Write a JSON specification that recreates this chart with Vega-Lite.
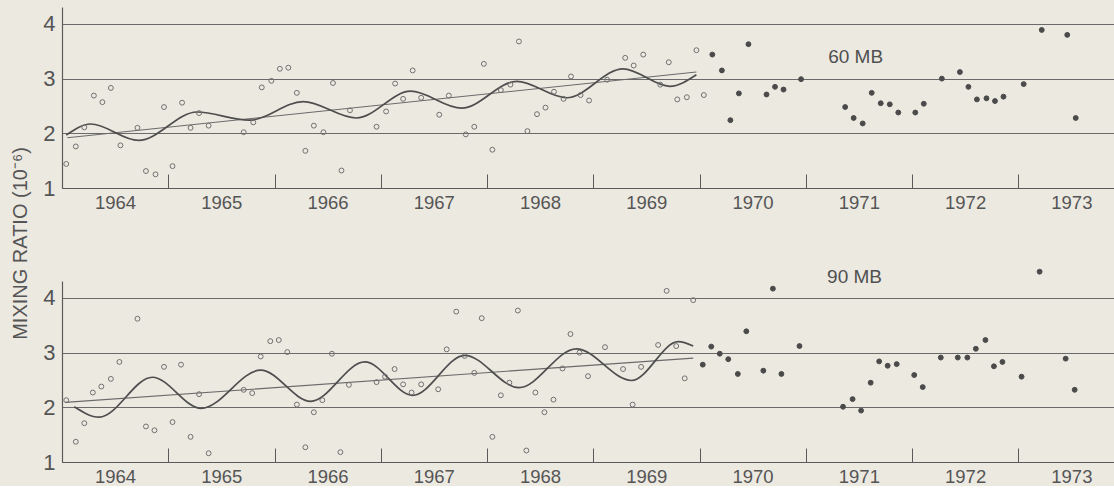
{
  "$schema": "https://vega.github.io/schema/vega-lite/v6.json",
  "background": "#ECE9E1",
  "padding": {"left": 10, "top": 7, "right": 0, "bottom": 0},
  "bounds": "flush",
  "spacing": 93,
  "config": {
    "view": {"stroke": null},
    "font": "Liberation Sans",
    "axisX": {
      "ticks": true,
      "tickSize": -14,
      "tickColor": "#5a5a5a",
      "tickWidth": 1,
      "labelOffset": 53,
      "labelPadding": 19,
      "labelFontSize": 18.5,
      "labelColor": "#555555",
      "labelFlush": false,
      "labelOverlap": false,
      "domainColor": "#5a5a5a",
      "domainWidth": 1.2,
      "grid": false,
      "title": null
    },
    "axisY": {
      "ticks": false,
      "grid": true,
      "gridColor": "#6a6a6a",
      "gridWidth": 1,
      "gridOpacity": 1,
      "labelFontSize": 22,
      "labelPadding": 7,
      "labelColor": "#555555",
      "domainColor": "#5a5a5a",
      "domainWidth": 1.2
    }
  },
  "datasets": {
    "points": [
      {"level": "60 MB", "kind": "open", "year": 1964.04, "ratio": 1.44},
      {"level": "60 MB", "kind": "open", "year": 1964.13, "ratio": 1.76},
      {"level": "60 MB", "kind": "open", "year": 1964.21, "ratio": 2.11},
      {"level": "60 MB", "kind": "open", "year": 1964.30, "ratio": 2.69},
      {"level": "60 MB", "kind": "open", "year": 1964.38, "ratio": 2.57},
      {"level": "60 MB", "kind": "open", "year": 1964.46, "ratio": 2.83},
      {"level": "60 MB", "kind": "open", "year": 1964.55, "ratio": 1.78},
      {"level": "60 MB", "kind": "open", "year": 1964.71, "ratio": 2.10},
      {"level": "60 MB", "kind": "open", "year": 1964.79, "ratio": 1.31},
      {"level": "60 MB", "kind": "open", "year": 1964.88, "ratio": 1.25},
      {"level": "60 MB", "kind": "open", "year": 1964.96, "ratio": 2.48},
      {"level": "60 MB", "kind": "open", "year": 1965.04, "ratio": 1.40},
      {"level": "60 MB", "kind": "open", "year": 1965.13, "ratio": 2.56},
      {"level": "60 MB", "kind": "open", "year": 1965.21, "ratio": 2.10},
      {"level": "60 MB", "kind": "open", "year": 1965.29, "ratio": 2.37},
      {"level": "60 MB", "kind": "open", "year": 1965.38, "ratio": 2.14},
      {"level": "60 MB", "kind": "open", "year": 1965.71, "ratio": 2.02},
      {"level": "60 MB", "kind": "open", "year": 1965.80, "ratio": 2.20},
      {"level": "60 MB", "kind": "open", "year": 1965.88, "ratio": 2.84},
      {"level": "60 MB", "kind": "open", "year": 1965.97, "ratio": 2.96},
      {"level": "60 MB", "kind": "open", "year": 1966.05, "ratio": 3.18},
      {"level": "60 MB", "kind": "open", "year": 1966.13, "ratio": 3.20},
      {"level": "60 MB", "kind": "open", "year": 1966.21, "ratio": 2.74},
      {"level": "60 MB", "kind": "open", "year": 1966.29, "ratio": 1.68},
      {"level": "60 MB", "kind": "open", "year": 1966.37, "ratio": 2.14},
      {"level": "60 MB", "kind": "open", "year": 1966.46, "ratio": 2.02},
      {"level": "60 MB", "kind": "open", "year": 1966.55, "ratio": 2.92},
      {"level": "60 MB", "kind": "open", "year": 1966.63, "ratio": 1.32},
      {"level": "60 MB", "kind": "open", "year": 1966.71, "ratio": 2.42},
      {"level": "60 MB", "kind": "open", "year": 1966.96, "ratio": 2.12},
      {"level": "60 MB", "kind": "open", "year": 1967.05, "ratio": 2.40},
      {"level": "60 MB", "kind": "open", "year": 1967.135, "ratio": 2.91},
      {"level": "60 MB", "kind": "open", "year": 1967.21, "ratio": 2.63},
      {"level": "60 MB", "kind": "open", "year": 1967.30, "ratio": 3.15},
      {"level": "60 MB", "kind": "open", "year": 1967.38, "ratio": 2.65},
      {"level": "60 MB", "kind": "open", "year": 1967.55, "ratio": 2.34},
      {"level": "60 MB", "kind": "open", "year": 1967.64, "ratio": 2.69},
      {"level": "60 MB", "kind": "open", "year": 1967.80, "ratio": 1.98},
      {"level": "60 MB", "kind": "open", "year": 1967.88, "ratio": 2.12},
      {"level": "60 MB", "kind": "open", "year": 1967.97, "ratio": 3.27},
      {"level": "60 MB", "kind": "open", "year": 1968.05, "ratio": 1.70},
      {"level": "60 MB", "kind": "open", "year": 1968.13, "ratio": 2.79},
      {"level": "60 MB", "kind": "open", "year": 1968.22, "ratio": 2.89},
      {"level": "60 MB", "kind": "open", "year": 1968.30, "ratio": 3.68},
      {"level": "60 MB", "kind": "open", "year": 1968.38, "ratio": 2.04},
      {"level": "60 MB", "kind": "open", "year": 1968.47, "ratio": 2.35},
      {"level": "60 MB", "kind": "open", "year": 1968.55, "ratio": 2.47},
      {"level": "60 MB", "kind": "open", "year": 1968.63, "ratio": 2.76},
      {"level": "60 MB", "kind": "open", "year": 1968.72, "ratio": 2.63},
      {"level": "60 MB", "kind": "open", "year": 1968.79, "ratio": 3.04},
      {"level": "60 MB", "kind": "open", "year": 1968.88, "ratio": 2.70},
      {"level": "60 MB", "kind": "open", "year": 1968.96, "ratio": 2.60},
      {"level": "60 MB", "kind": "open", "year": 1969.13, "ratio": 2.98},
      {"level": "60 MB", "kind": "open", "year": 1969.30, "ratio": 3.38},
      {"level": "60 MB", "kind": "open", "year": 1969.38, "ratio": 3.24},
      {"level": "60 MB", "kind": "open", "year": 1969.47, "ratio": 3.44},
      {"level": "60 MB", "kind": "open", "year": 1969.63, "ratio": 2.89},
      {"level": "60 MB", "kind": "open", "year": 1969.71, "ratio": 3.30},
      {"level": "60 MB", "kind": "open", "year": 1969.79, "ratio": 2.62},
      {"level": "60 MB", "kind": "open", "year": 1969.88, "ratio": 2.66},
      {"level": "60 MB", "kind": "open", "year": 1969.97, "ratio": 3.52},
      {"level": "60 MB", "kind": "open", "year": 1970.04, "ratio": 2.70},
      {"level": "60 MB", "kind": "filled", "year": 1970.12, "ratio": 3.44},
      {"level": "60 MB", "kind": "filled", "year": 1970.21, "ratio": 3.15},
      {"level": "60 MB", "kind": "filled", "year": 1970.29, "ratio": 2.24},
      {"level": "60 MB", "kind": "filled", "year": 1970.37, "ratio": 2.73},
      {"level": "60 MB", "kind": "filled", "year": 1970.46, "ratio": 3.63},
      {"level": "60 MB", "kind": "filled", "year": 1970.63, "ratio": 2.71},
      {"level": "60 MB", "kind": "filled", "year": 1970.71, "ratio": 2.85},
      {"level": "60 MB", "kind": "filled", "year": 1970.79, "ratio": 2.80},
      {"level": "60 MB", "kind": "filled", "year": 1970.955, "ratio": 2.99},
      {"level": "60 MB", "kind": "filled", "year": 1971.37, "ratio": 2.48},
      {"level": "60 MB", "kind": "filled", "year": 1971.45, "ratio": 2.28},
      {"level": "60 MB", "kind": "filled", "year": 1971.535, "ratio": 2.18},
      {"level": "60 MB", "kind": "filled", "year": 1971.62, "ratio": 2.74},
      {"level": "60 MB", "kind": "filled", "year": 1971.705, "ratio": 2.55},
      {"level": "60 MB", "kind": "filled", "year": 1971.79, "ratio": 2.53},
      {"level": "60 MB", "kind": "filled", "year": 1971.87, "ratio": 2.38},
      {"level": "60 MB", "kind": "filled", "year": 1972.03, "ratio": 2.38},
      {"level": "60 MB", "kind": "filled", "year": 1972.11, "ratio": 2.54},
      {"level": "60 MB", "kind": "filled", "year": 1972.28, "ratio": 3.00},
      {"level": "60 MB", "kind": "filled", "year": 1972.45, "ratio": 3.12},
      {"level": "60 MB", "kind": "filled", "year": 1972.53, "ratio": 2.85},
      {"level": "60 MB", "kind": "filled", "year": 1972.61, "ratio": 2.62},
      {"level": "60 MB", "kind": "filled", "year": 1972.70, "ratio": 2.64},
      {"level": "60 MB", "kind": "filled", "year": 1972.78, "ratio": 2.59},
      {"level": "60 MB", "kind": "filled", "year": 1972.86, "ratio": 2.67},
      {"level": "60 MB", "kind": "filled", "year": 1973.05, "ratio": 2.90},
      {"level": "60 MB", "kind": "filled", "year": 1973.22, "ratio": 3.89},
      {"level": "60 MB", "kind": "filled", "year": 1973.46, "ratio": 3.80},
      {"level": "60 MB", "kind": "filled", "year": 1973.54, "ratio": 2.28},
      {"level": "90 MB", "kind": "open", "year": 1964.04, "ratio": 2.13},
      {"level": "90 MB", "kind": "open", "year": 1964.13, "ratio": 1.37},
      {"level": "90 MB", "kind": "open", "year": 1964.21, "ratio": 1.71},
      {"level": "90 MB", "kind": "open", "year": 1964.29, "ratio": 2.27},
      {"level": "90 MB", "kind": "open", "year": 1964.37, "ratio": 2.38},
      {"level": "90 MB", "kind": "open", "year": 1964.46, "ratio": 2.52},
      {"level": "90 MB", "kind": "open", "year": 1964.54, "ratio": 2.83},
      {"level": "90 MB", "kind": "open", "year": 1964.71, "ratio": 3.62},
      {"level": "90 MB", "kind": "open", "year": 1964.79, "ratio": 1.65},
      {"level": "90 MB", "kind": "open", "year": 1964.87, "ratio": 1.58},
      {"level": "90 MB", "kind": "open", "year": 1964.96, "ratio": 2.74},
      {"level": "90 MB", "kind": "open", "year": 1965.04, "ratio": 1.73},
      {"level": "90 MB", "kind": "open", "year": 1965.12, "ratio": 2.78},
      {"level": "90 MB", "kind": "open", "year": 1965.21, "ratio": 1.46},
      {"level": "90 MB", "kind": "open", "year": 1965.29, "ratio": 2.24},
      {"level": "90 MB", "kind": "open", "year": 1965.38, "ratio": 1.16},
      {"level": "90 MB", "kind": "open", "year": 1965.71, "ratio": 2.32},
      {"level": "90 MB", "kind": "open", "year": 1965.79, "ratio": 2.26},
      {"level": "90 MB", "kind": "open", "year": 1965.87, "ratio": 2.93},
      {"level": "90 MB", "kind": "open", "year": 1965.96, "ratio": 3.21},
      {"level": "90 MB", "kind": "open", "year": 1966.04, "ratio": 3.23},
      {"level": "90 MB", "kind": "open", "year": 1966.12, "ratio": 3.01},
      {"level": "90 MB", "kind": "open", "year": 1966.21, "ratio": 2.05},
      {"level": "90 MB", "kind": "open", "year": 1966.29, "ratio": 1.27},
      {"level": "90 MB", "kind": "open", "year": 1966.37, "ratio": 1.91},
      {"level": "90 MB", "kind": "open", "year": 1966.45, "ratio": 2.13},
      {"level": "90 MB", "kind": "open", "year": 1966.54, "ratio": 2.98},
      {"level": "90 MB", "kind": "open", "year": 1966.62, "ratio": 1.18},
      {"level": "90 MB", "kind": "open", "year": 1966.70, "ratio": 2.41},
      {"level": "90 MB", "kind": "open", "year": 1966.96, "ratio": 2.46},
      {"level": "90 MB", "kind": "open", "year": 1967.04, "ratio": 2.56},
      {"level": "90 MB", "kind": "open", "year": 1967.13, "ratio": 2.70},
      {"level": "90 MB", "kind": "open", "year": 1967.21, "ratio": 2.42},
      {"level": "90 MB", "kind": "open", "year": 1967.29, "ratio": 2.27},
      {"level": "90 MB", "kind": "open", "year": 1967.38, "ratio": 2.42},
      {"level": "90 MB", "kind": "open", "year": 1967.54, "ratio": 2.33},
      {"level": "90 MB", "kind": "open", "year": 1967.62, "ratio": 3.06},
      {"level": "90 MB", "kind": "open", "year": 1967.71, "ratio": 3.75},
      {"level": "90 MB", "kind": "open", "year": 1967.79, "ratio": 2.94},
      {"level": "90 MB", "kind": "open", "year": 1967.88, "ratio": 2.63},
      {"level": "90 MB", "kind": "open", "year": 1967.95, "ratio": 3.63},
      {"level": "90 MB", "kind": "open", "year": 1968.05, "ratio": 1.46},
      {"level": "90 MB", "kind": "open", "year": 1968.13, "ratio": 2.22},
      {"level": "90 MB", "kind": "open", "year": 1968.21, "ratio": 2.45},
      {"level": "90 MB", "kind": "open", "year": 1968.29, "ratio": 3.77},
      {"level": "90 MB", "kind": "open", "year": 1968.37, "ratio": 1.21},
      {"level": "90 MB", "kind": "open", "year": 1968.455, "ratio": 2.27},
      {"level": "90 MB", "kind": "open", "year": 1968.54, "ratio": 1.91},
      {"level": "90 MB", "kind": "open", "year": 1968.625, "ratio": 2.14},
      {"level": "90 MB", "kind": "open", "year": 1968.71, "ratio": 2.71},
      {"level": "90 MB", "kind": "open", "year": 1968.785, "ratio": 3.34},
      {"level": "90 MB", "kind": "open", "year": 1968.87, "ratio": 3.00},
      {"level": "90 MB", "kind": "open", "year": 1968.95, "ratio": 2.57},
      {"level": "90 MB", "kind": "open", "year": 1969.11, "ratio": 3.10},
      {"level": "90 MB", "kind": "open", "year": 1969.28, "ratio": 2.70},
      {"level": "90 MB", "kind": "open", "year": 1969.37, "ratio": 2.05},
      {"level": "90 MB", "kind": "open", "year": 1969.45, "ratio": 2.74},
      {"level": "90 MB", "kind": "open", "year": 1969.61, "ratio": 3.14},
      {"level": "90 MB", "kind": "open", "year": 1969.69, "ratio": 4.13},
      {"level": "90 MB", "kind": "open", "year": 1969.78, "ratio": 3.12},
      {"level": "90 MB", "kind": "open", "year": 1969.86, "ratio": 2.53},
      {"level": "90 MB", "kind": "open", "year": 1969.94, "ratio": 3.96},
      {"level": "90 MB", "kind": "filled", "year": 1970.03, "ratio": 2.78},
      {"level": "90 MB", "kind": "filled", "year": 1970.11, "ratio": 3.11},
      {"level": "90 MB", "kind": "filled", "year": 1970.19, "ratio": 2.98},
      {"level": "90 MB", "kind": "filled", "year": 1970.27, "ratio": 2.88},
      {"level": "90 MB", "kind": "filled", "year": 1970.36, "ratio": 2.61},
      {"level": "90 MB", "kind": "filled", "year": 1970.44, "ratio": 3.39},
      {"level": "90 MB", "kind": "filled", "year": 1970.60, "ratio": 2.67},
      {"level": "90 MB", "kind": "filled", "year": 1970.69, "ratio": 4.17},
      {"level": "90 MB", "kind": "filled", "year": 1970.77, "ratio": 2.61},
      {"level": "90 MB", "kind": "filled", "year": 1970.94, "ratio": 3.12},
      {"level": "90 MB", "kind": "filled", "year": 1971.35, "ratio": 2.01},
      {"level": "90 MB", "kind": "filled", "year": 1971.44, "ratio": 2.15},
      {"level": "90 MB", "kind": "filled", "year": 1971.52, "ratio": 1.94},
      {"level": "90 MB", "kind": "filled", "year": 1971.61, "ratio": 2.45},
      {"level": "90 MB", "kind": "filled", "year": 1971.69, "ratio": 2.84},
      {"level": "90 MB", "kind": "filled", "year": 1971.77, "ratio": 2.76},
      {"level": "90 MB", "kind": "filled", "year": 1971.855, "ratio": 2.79},
      {"level": "90 MB", "kind": "filled", "year": 1972.02, "ratio": 2.59},
      {"level": "90 MB", "kind": "filled", "year": 1972.10, "ratio": 2.37},
      {"level": "90 MB", "kind": "filled", "year": 1972.27, "ratio": 2.91},
      {"level": "90 MB", "kind": "filled", "year": 1972.43, "ratio": 2.91},
      {"level": "90 MB", "kind": "filled", "year": 1972.52, "ratio": 2.91},
      {"level": "90 MB", "kind": "filled", "year": 1972.60, "ratio": 3.07},
      {"level": "90 MB", "kind": "filled", "year": 1972.69, "ratio": 3.23},
      {"level": "90 MB", "kind": "filled", "year": 1972.77, "ratio": 2.75},
      {"level": "90 MB", "kind": "filled", "year": 1972.85, "ratio": 2.83},
      {"level": "90 MB", "kind": "filled", "year": 1973.03, "ratio": 2.56},
      {"level": "90 MB", "kind": "filled", "year": 1973.20, "ratio": 4.48},
      {"level": "90 MB", "kind": "filled", "year": 1973.445, "ratio": 2.89},
      {"level": "90 MB", "kind": "filled", "year": 1973.53, "ratio": 2.32}
    ],
    "curve": [
      {"level": "60 MB", "year": 1964.04, "ratio": 1.97},
      {"level": "60 MB", "year": 1964.27, "ratio": 2.17},
      {"level": "60 MB", "year": 1964.72, "ratio": 1.87},
      {"level": "60 MB", "year": 1965.27, "ratio": 2.39},
      {"level": "60 MB", "year": 1965.76, "ratio": 2.24},
      {"level": "60 MB", "year": 1966.27, "ratio": 2.58},
      {"level": "60 MB", "year": 1966.77, "ratio": 2.28},
      {"level": "60 MB", "year": 1967.28, "ratio": 2.77},
      {"level": "60 MB", "year": 1967.76, "ratio": 2.46},
      {"level": "60 MB", "year": 1968.28, "ratio": 2.95},
      {"level": "60 MB", "year": 1968.75, "ratio": 2.65},
      {"level": "60 MB", "year": 1969.28, "ratio": 3.18},
      {"level": "60 MB", "year": 1969.72, "ratio": 2.86},
      {"level": "60 MB", "year": 1969.97, "ratio": 3.07},
      {"level": "90 MB", "year": 1964.115, "ratio": 2.01},
      {"level": "90 MB", "year": 1964.35, "ratio": 1.82},
      {"level": "90 MB", "year": 1964.85, "ratio": 2.55},
      {"level": "90 MB", "year": 1965.31, "ratio": 1.98},
      {"level": "90 MB", "year": 1965.87, "ratio": 2.68},
      {"level": "90 MB", "year": 1966.34, "ratio": 2.11},
      {"level": "90 MB", "year": 1966.85, "ratio": 2.83},
      {"level": "90 MB", "year": 1967.30, "ratio": 2.22},
      {"level": "90 MB", "year": 1967.79, "ratio": 2.95},
      {"level": "90 MB", "year": 1968.30, "ratio": 2.36},
      {"level": "90 MB", "year": 1968.84, "ratio": 3.07},
      {"level": "90 MB", "year": 1969.36, "ratio": 2.49},
      {"level": "90 MB", "year": 1969.80, "ratio": 3.20},
      {"level": "90 MB", "year": 1969.94, "ratio": 3.12}
    ],
    "trend": [
      {"level": "60 MB", "year": 1964.05, "ratio": 1.92},
      {"level": "60 MB", "year": 1969.97, "ratio": 3.12},
      {"level": "90 MB", "year": 1964.03, "ratio": 2.09},
      {"level": "90 MB", "year": 1969.94, "ratio": 2.90}
    ]
  },
  "vconcat": [
    {
      "width": 1052,
      "height": 181,
      "layer": [
        {
          "data": {"name": "trend"},
          "transform": [{"filter": "datum.level == '60 MB'"}],
          "mark": {"type": "line", "color": "#6a6a6a", "strokeWidth": 1.1, "clip": false},
          "encoding": {
            "x": {"field": "year", "type": "quantitative", "scale": {"domain": [1964, 1973.9], "nice": false, "zero": false},
              "axis": {"values": [1964, 1965, 1966, 1967, 1968, 1969, 1970, 1971, 1972, 1973], "format": "d", "tickSize": -14, "labelOffset": 53, "labelPadding": 19}},
            "y": {"field": "ratio", "type": "quantitative", "scale": {"domain": [1, 4.31], "nice": false, "zero": false},
              "axis": {"values": [1, 2, 3, 4], "format": "d", "title": "MIXING RATIO (10⁻⁶)", "titleFontSize": 20, "titleFontWeight": "normal", "titleColor": "#555555", "titleAngle": -90, "titleX": -42, "titleY": 236, "titleBaseline": "middle", "titleAlign": "center"}}
          }
        },
        {
          "data": {"name": "curve"},
          "transform": [{"filter": "datum.level == '60 MB'"}],
          "mark": {"type": "line", "interpolate": "monotone", "color": "#4e4e4e", "strokeWidth": 1.7, "clip": false},
          "encoding": {
            "x": {"field": "year", "type": "quantitative"},
            "y": {"field": "ratio", "type": "quantitative"}
          }
        },
        {
          "data": {"name": "points"},
          "transform": [{"filter": "datum.level == '60 MB'"}],
          "mark": {"type": "point", "shape": "circle", "size": 24, "strokeWidth": 1, "opacity": 1, "clip": false},
          "encoding": {
            "x": {"field": "year", "type": "quantitative"},
            "y": {"field": "ratio", "type": "quantitative"},
            "fill": {"field": "kind", "type": "nominal", "scale": {"domain": ["open", "filled"], "range": ["transparent", "#4a4a4a"]}, "legend": null},
            "stroke": {"field": "kind", "type": "nominal", "scale": {"domain": ["open", "filled"], "range": ["#707070", "#4a4a4a"]}, "legend": null}
          }
        },
        {
          "data": {"values": [{"label": "60 MB"}]},
          "mark": {"type": "text", "align": "left", "baseline": "alphabetic", "fontSize": 19, "color": "#505050"},
          "encoding": {
            "x": {"datum": 1971.21, "type": "quantitative"},
            "y": {"datum": 3.29, "type": "quantitative"},
            "text": {"field": "label"}
          }
        }
      ]
    },
    {
      "width": 1052,
      "height": 181,
      "layer": [
        {
          "data": {"name": "trend"},
          "transform": [{"filter": "datum.level == '90 MB'"}],
          "mark": {"type": "line", "color": "#6a6a6a", "strokeWidth": 1.1, "clip": false},
          "encoding": {
            "x": {"field": "year", "type": "quantitative", "scale": {"domain": [1964, 1973.9], "nice": false, "zero": false},
              "axis": {"values": [1964, 1965, 1966, 1967, 1968, 1969, 1970, 1971, 1972, 1973], "format": "d", "tickSize": -14, "labelOffset": 53, "labelPadding": 19}},
            "y": {"field": "ratio", "type": "quantitative", "scale": {"domain": [1, 4.31], "nice": false, "zero": false},
              "axis": {"values": [1, 2, 3, 4], "format": "d", "title": null}}
          }
        },
        {
          "data": {"name": "curve"},
          "transform": [{"filter": "datum.level == '90 MB'"}],
          "mark": {"type": "line", "interpolate": "monotone", "color": "#4e4e4e", "strokeWidth": 1.7, "clip": false},
          "encoding": {
            "x": {"field": "year", "type": "quantitative"},
            "y": {"field": "ratio", "type": "quantitative"}
          }
        },
        {
          "data": {"name": "points"},
          "transform": [{"filter": "datum.level == '90 MB'"}],
          "mark": {"type": "point", "shape": "circle", "size": 24, "strokeWidth": 1, "opacity": 1, "clip": false},
          "encoding": {
            "x": {"field": "year", "type": "quantitative"},
            "y": {"field": "ratio", "type": "quantitative"},
            "fill": {"field": "kind", "type": "nominal", "scale": {"domain": ["open", "filled"], "range": ["transparent", "#4a4a4a"]}, "legend": null},
            "stroke": {"field": "kind", "type": "nominal", "scale": {"domain": ["open", "filled"], "range": ["#707070", "#4a4a4a"]}, "legend": null}
          }
        },
        {
          "data": {"values": [{"label": "90 MB"}]},
          "mark": {"type": "text", "align": "left", "baseline": "alphabetic", "fontSize": 19, "color": "#505050"},
          "encoding": {
            "x": {"datum": 1971.2, "type": "quantitative"},
            "y": {"datum": 4.27, "type": "quantitative"},
            "text": {"field": "label"}
          }
        }
      ]
    }
  ]
}
